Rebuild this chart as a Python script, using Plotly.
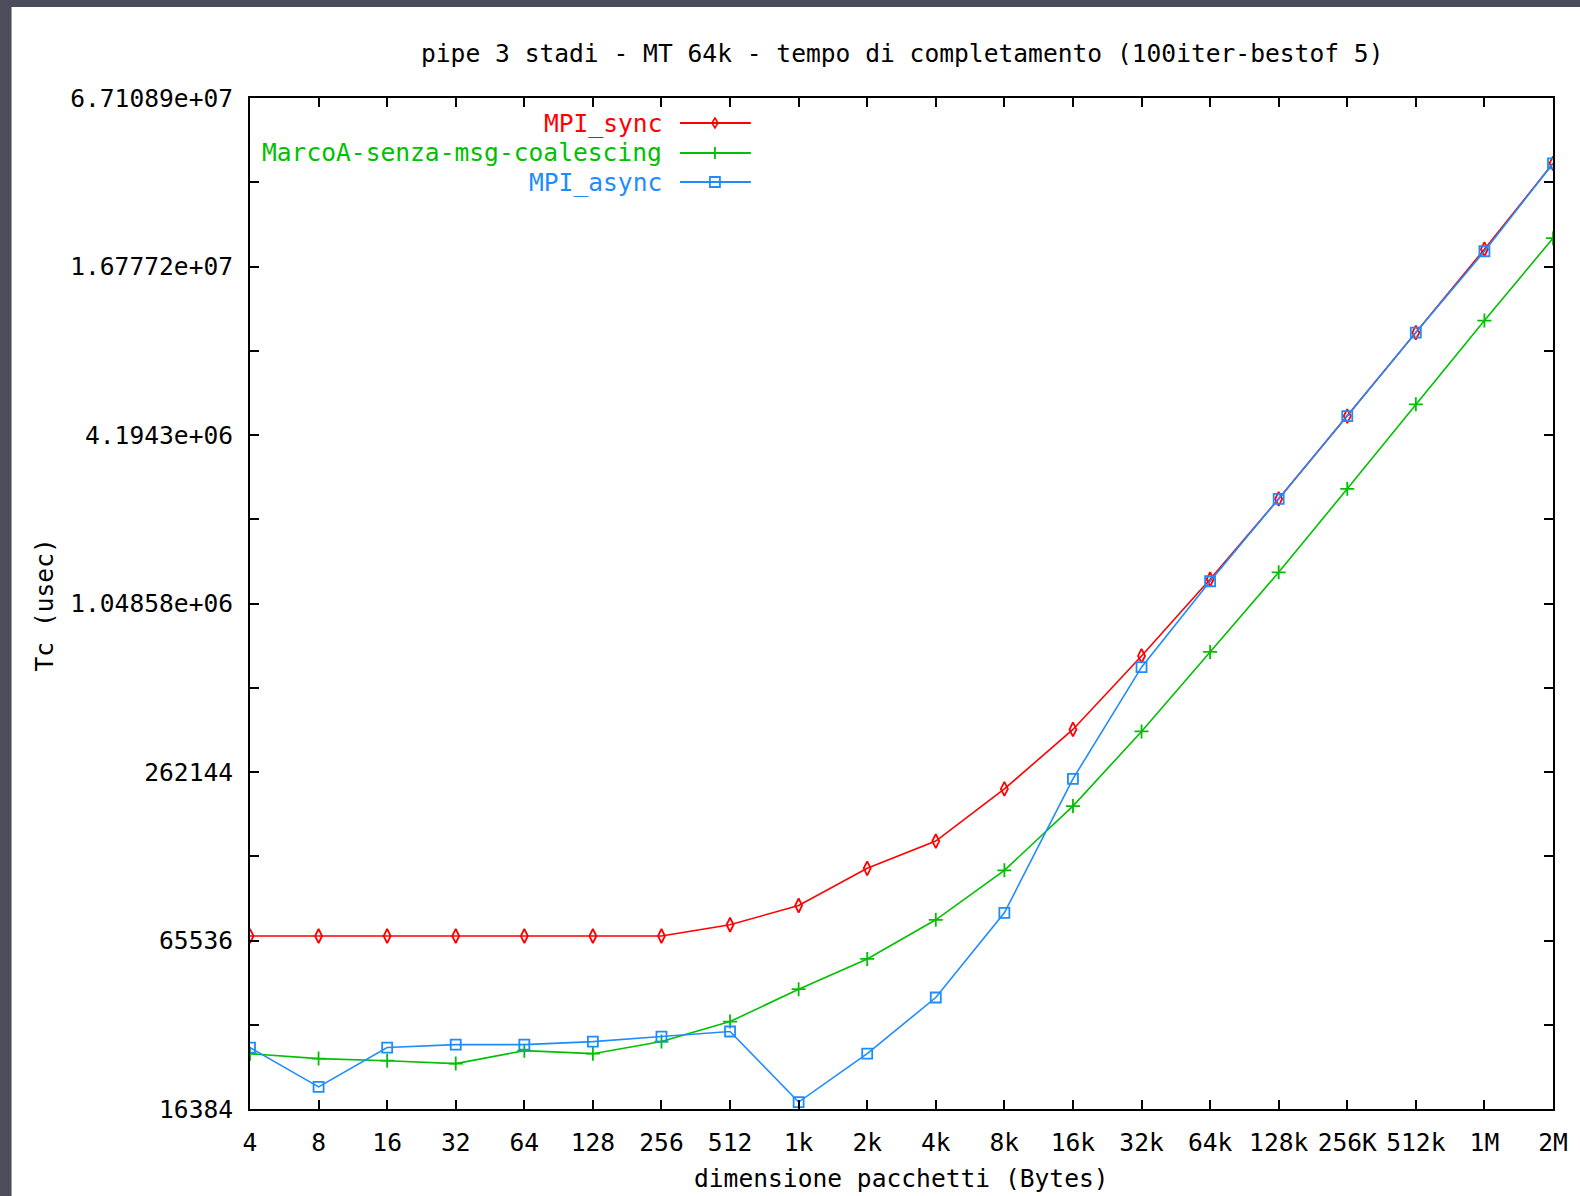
import plotly.graph_objects as go

sizes = ["4", "8", "16", "32", "64", "128", "256", "512", "1k", "2k", "4k", "8k",
         "16k", "32k", "64k", "128k", "256K", "512k", "1M", "2M"]

mpi_sync = [68000, 68000, 68000, 68000, 68000, 68000, 68000, 74600, 87400, 118700,
            148500, 228000, 372000, 681000, 1280000, 2480000, 4900000, 9740000,
            19340000, 39200000]
marcoa = [25830, 24800, 24380, 23800, 26480, 25830, 28530, 33630, 43900, 56300,
          77700, 116700, 198000, 366000, 704000, 1355000, 2694000, 5400000,
          10750000, 21180000]
mpi_async = [27160, 19650, 27160, 27830, 27830, 28530, 29740, 31000, 17350, 25830,
             41000, 82300, 247800, 621000, 1259000, 2480000, 4900000, 9740000,
             19020000, 39200000]

series_names = ["MPI_sync", "MarcoA-senza-msg-coalescing", "MPI_async"]
series_colors = ["#ff0000", "#00c000", "#1e8cff"]
series_symbols = ["diamond-tall-open", "cross-thin-open", "square-open"]
series_values = [mpi_sync, marcoa, mpi_async]

ytick_vals = [2 ** p for p in range(14, 27)]
ytick_text = ["16384", "", "65536", "", "262144", "", "1.04858e+06", "",
              "4.1943e+06", "", "1.67772e+07", "", "6.71089e+07"]

title_text = "pipe 3 stadi - MT 64k - tempo di completamento (100iter-bestof 5)"
xlabel = "dimensione pacchetti (Bytes)"
ylabel = "Tc (usec)"

FONT = "DejaVu Sans Mono"
FS = 24.6

W, H = 1580, 1196
L, R, T, B = 250, 1556, 98, 1109
PW, PH = R - L, B - T


def px(x):
    return (x - L) / PW


def py(y):
    return (B - y) / PH


fig = go.Figure()
for name, col, sym, vals in zip(series_names, series_colors, series_symbols, series_values):
    fig.add_trace(go.Scatter(
        x=sizes, y=vals, mode="lines+markers", name=name,
        line=dict(color=col, width=1.6),
        marker=dict(symbol=sym, size=10,
                    color=col, line=dict(color=col, width=1.8)),
        showlegend=False,
    ))

shapes = [
    dict(type="rect", xref="paper", yref="paper", layer="below",
         x0=px(11), x1=px(W + 5), y0=py(H + 5), y1=py(7),
         fillcolor="white", line=dict(width=0)),
]
annotations = []

# custom gnuplot-style legend (text right-aligned, sample to the right)
leg_rows = [123, 153, 182]
for name, col, sym, ry in zip(series_names, series_colors, series_symbols, leg_rows):
    annotations.append(dict(xref="paper", yref="paper", x=px(665), y=py(ry),
                            xanchor="right", yanchor="middle", text=name,
                            showarrow=False, font=dict(family=FONT, size=FS, color=col)))
    shapes.append(dict(type="line", xref="paper", yref="paper",
                       x0=px(681), x1=px(752), y0=py(ry), y1=py(ry),
                       line=dict(color=col, width=1.8)))
    cx = 716
    if sym == "square-open":
        shapes.append(dict(type="rect", xref="paper", yref="paper",
                           x0=px(cx - 5), x1=px(cx + 5), y0=py(ry + 5), y1=py(ry - 5),
                           line=dict(color=col, width=1.8)))
    elif sym == "cross-thin-open":
        shapes.append(dict(type="line", xref="paper", yref="paper",
                           x0=px(cx), x1=px(cx), y0=py(ry + 6), y1=py(ry - 6),
                           line=dict(color=col, width=1.8)))
    else:
        shapes.append(dict(type="path", xref="paper", yref="paper",
                           path=f"M {px(cx)} {py(ry-5)} L {px(cx+3)} {py(ry)} L {px(cx)} {py(ry+5)} L {px(cx-3)} {py(ry)} Z",
                           line=dict(color=col, width=1.6)))

annotations.append(dict(xref="paper", yref="paper", x=0.5, y=py(54),
                        xanchor="center", yanchor="middle", text=title_text,
                        showarrow=False, font=dict(family=FONT, size=FS, color="black")))
annotations.append(dict(xref="paper", yref="paper", x=px(44), y=py(605),
                        xanchor="center", yanchor="middle", text=ylabel, textangle=-90,
                        showarrow=False, font=dict(family=FONT, size=FS, color="black")))
annotations.append(dict(xref="paper", yref="paper", x=0.5, y=py(1195),
                        xanchor="center", yanchor="bottom", text=xlabel,
                        showarrow=False, font=dict(family=FONT, size=FS, color="black")))

fig.update_layout(
    width=W, height=H,
    margin=dict(l=L, r=W - R, t=T, b=H - B, pad=0),
    paper_bgcolor="#4b4d5a",
    plot_bgcolor="white",
    font=dict(family=FONT, size=FS, color="black"),
    shapes=shapes,
    annotations=annotations,
    xaxis=dict(
        type="category", range=[0, len(sizes) - 1],
        tickvals=sizes, ticktext=sizes,
        ticks="inside", ticklen=9, tickwidth=2, tickcolor="black",
        showline=True, linecolor="black", linewidth=2, mirror="ticks",
        showgrid=False, zeroline=False, ticklabelstandoff=10,
        tickfont=dict(family=FONT, size=FS, color="black"),
    ),
    yaxis=dict(
        type="log", range=[14 * 0.30103, 26 * 0.30103],
        tickvals=ytick_vals, ticktext=ytick_text,
        ticks="inside", ticklen=9, tickwidth=2, tickcolor="black",
        showline=True, linecolor="black", linewidth=2, mirror="ticks",
        showgrid=False, zeroline=False, ticklabelstandoff=10,
        tickfont=dict(family=FONT, size=FS, color="black"),
    ),
)

fig.write_html("out.html")
